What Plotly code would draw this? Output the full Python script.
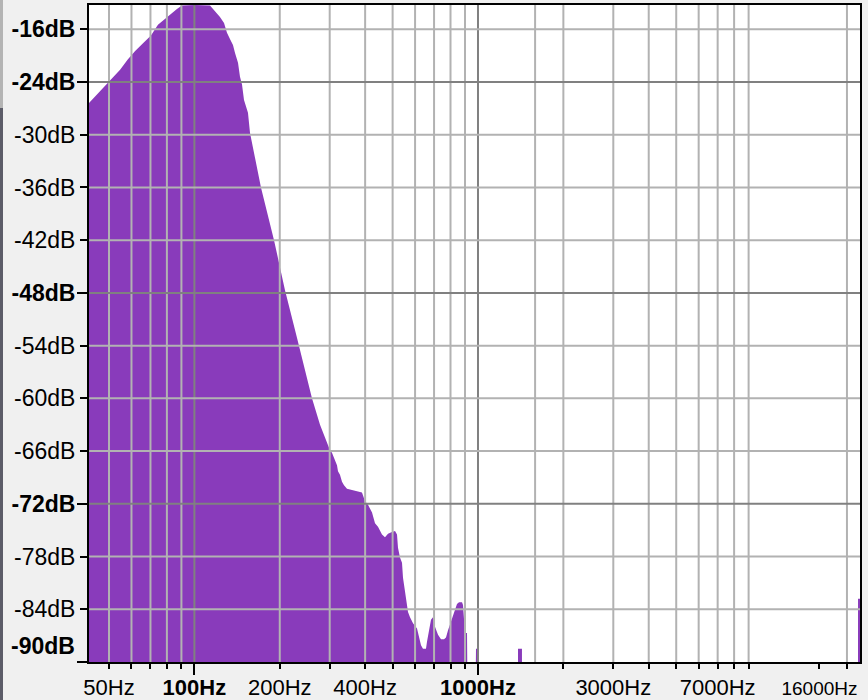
import plotly.graph_objects as go

# ---- data (frequency in Hz, level in dB) ----
freq_hz = [42.5, 50.0, 54.7, 58.3, 61.7, 65.9, 70.3, 74.4, 78.8, 83.4, 86.8, 90.4,
           100.5, 113.5, 116.3, 120.2, 123.1, 127.2, 130.3, 133.5, 136.8, 139.1, 142.5,
           144.8, 147.2, 149.6, 154.5, 157.1, 171.7, 190.9, 208.7, 230.0, 245.4, 259.8,
           277.3, 300.7, 305.6, 313.1, 318.3, 320.9, 326.1, 331.5, 336.9, 345.2, 389.9,
           399.6, 409.4, 423.0, 433.4, 444.0, 458.7, 470.0, 481.6, 497.4, 509.8, 518.1,
           522.3, 530.9, 539.6, 544.0, 557.4, 566.5, 575.8, 590.0, 609.5, 619.5, 629.6,
           639.8, 655.6, 661.0, 671.8, 682.8, 694.0, 705.3, 722.8, 740.6, 758.9, 771.3,
           784.0, 809.8, 823.0, 843.3, 857.2, 878.3, 885.4, 899.9, 914.8, 922.0, 976.0,
           984.0, 1000.0, 1008.0, 1384.0, 1384.0, 1429.0, 1430.0, 21870.0, 21880.0, 22230.0]
level_db = [-26.4, -23.9, -22.6, -21.4, -20.5, -19.6, -18.7, -17.5, -16.8, -16.2, -15.7, -15.3,
            -15.25, -15.3, -15.7, -16.2, -16.6, -17.3, -18.4, -19.1, -19.8, -20.7, -21.8,
            -23.4, -24.3, -26.05, -27.5, -29.8, -36.0, -42.0, -47.7, -53.1, -56.8, -60.0,
            -63.0, -65.9, -66.2, -67.0, -67.6, -68.3, -68.7, -69.5, -69.9, -70.3, -70.7,
            -71.7, -72.1, -73.0, -74.2, -74.6, -75.5, -75.8, -75.4, -75.2, -75.1, -75.5,
            -77.0, -78.1, -78.7, -80.4, -82.6, -84.3, -84.9, -85.6, -86.2, -87.2, -88.1,
            -88.5, -88.5, -87.7, -86.6, -85.2, -84.9, -86.0, -86.9, -87.4, -87.4, -87.2,
            -86.4, -85.1, -84.3, -83.4, -83.2, -83.2, -83.5, -86.7, -86.7, -100.0, -100.0,
            -88.5, -88.5, -100.0, -100.0, -88.5, -88.5, -100.0, -100.0, -82.8, -82.8]

FLOOR_DB = -100.0

x_tick_vals = [50, 60, 70, 80, 90, 100, 200, 300, 400, 500, 600, 700, 800, 900, 1000,
               2000, 3000, 4000, 5000, 6000, 7000, 8000, 9000, 16000, 20000]
x_tick_text = ["50Hz", "", "", "", "", "<b>100Hz</b>", "200Hz", "", "400Hz", "", "", "", "",
               "", "<b>1000Hz</b>", "", "3000Hz", "", "", "", "7000Hz", "", "",
               "<span style='font-size:19px'>16000Hz</span>", ""]
x_major = [100, 1000]
x_grid_light = [50, 60, 70, 80, 90, 200, 300, 400, 500, 600, 700, 800, 900, 1590,
                2000, 3000, 4000, 5000, 6000, 7000, 8000, 9000, 20000]
x_grid_dark = [100, 1000]

y_tick_vals = [-18, -24, -30, -36, -42, -48, -54, -60, -66, -72, -78, -84, -90]
y_tick_text = ["<b>-16dB</b>", "<b>-24dB</b>", "-30dB", "-36dB", "-42dB", "<b>-48dB</b>",
               "-54dB", "-60dB", "-66dB", "<b>-72dB</b>", "-78dB", "-84dB", ""]
y_major = [-24, -48, -72, -90]
y_grid_light = [-18, -30, -36, -42, -54, -60, -66, -78, -84]
y_grid_dark = [-24, -48, -72]
bottom_label = "<b>-90dB</b>"
bottom_label_db = -88.2

X_RANGE_LOG = [1.6284, 4.347]
Y_RANGE = [-90, -15.24]

FONT = dict(family="Liberation Sans, Arial, sans-serif", size=23, color="black")
XFONT = dict(family="Liberation Sans, Arial, sans-serif", size=22, color="black")
PURPLE = "#893bbb"
LIGHT = "#b2b2b2"
DARK = "#808080"

fig = go.Figure()
fig.add_trace(go.Scatter(x=[freq_hz[0], freq_hz[-1]], y=[FLOOR_DB, FLOOR_DB],
                         mode="lines", line=dict(width=0), hoverinfo="skip",
                         showlegend=False))
fig.add_trace(go.Scatter(x=freq_hz, y=level_db, mode="lines",
                         line=dict(width=0, color=PURPLE), fill="tonexty",
                         fillcolor=PURPLE, showlegend=False))

shapes = []
for f in x_grid_light:
    shapes.append(dict(type="line", xref="x", yref="paper", x0=f, x1=f, y0=0, y1=1,
                       line=dict(color=LIGHT, width=2), layer="above"))
for f in x_grid_dark:
    shapes.append(dict(type="line", xref="x", yref="paper", x0=f, x1=f, y0=0, y1=1,
                       line=dict(color=DARK, width=2), layer="above"))
for v in y_grid_light:
    shapes.append(dict(type="line", xref="paper", yref="y", x0=0, x1=1, y0=v, y1=v,
                       line=dict(color=LIGHT, width=2), layer="above"))
for v in y_grid_dark:
    shapes.append(dict(type="line", xref="paper", yref="y", x0=0, x1=1, y0=v, y1=v,
                       line=dict(color=DARK, width=2), layer="above"))

ML, MR, MT, MB = 89, 8, 5, 38
W, H = 868, 700
pw, ph = W - ML - MR, H - MT - MB
# window-edge strip on the far left
shapes.append(dict(type="rect", xref="paper", yref="paper",
                   x0=-ML / pw, x1=-(ML - 3) / pw, y0=-MB / ph, y1=(ph + MT - 108) / ph,
                   fillcolor="#5c5c68", line=dict(width=0), layer="above"))
shapes.append(dict(type="rect", xref="paper", yref="paper",
                   x0=-ML / pw, x1=-(ML - 3) / pw, y0=(ph + MT - 108) / ph, y1=(ph + MT) / ph,
                   fillcolor="#b4b4b4", line=dict(width=0), layer="above"))

fig.update_layout(
    width=W, height=H,
    margin=dict(l=ML, r=MR, t=MT, b=MB, autoexpand=False),
    paper_bgcolor="#f0f0f0", plot_bgcolor="white",
    font=FONT, showlegend=False, shapes=shapes,
    annotations=[dict(text=bottom_label, xref="paper", yref="y", x=0, y=bottom_label_db,
                      xanchor="right", yanchor="middle", xshift=-12, showarrow=False,
                      font=FONT)],
)
fig.update_xaxes(type="log", range=X_RANGE_LOG, tickmode="array", tickvals=x_tick_vals,
                 ticktext=x_tick_text, ticks="outside", ticklen=5, tickwidth=2,
                 tickcolor="black", showgrid=False, zeroline=False, showline=True,
                 linecolor="black", linewidth=2, mirror=True, tickfont=XFONT,
                 automargin=False,
                 minor=dict(tickmode="array", tickvals=x_major, ticks="outside",
                            ticklen=11, tickwidth=2, tickcolor="black", showgrid=False))
fig.update_yaxes(range=Y_RANGE, tickmode="array", tickvals=y_tick_vals,
                 ticktext=y_tick_text, ticks="outside", ticklen=7, tickwidth=2,
                 tickcolor="black", showgrid=False, zeroline=False, showline=True,
                 linecolor="black", linewidth=2, mirror=True, tickfont=FONT,
                 automargin=False,
                 minor=dict(tickmode="array", tickvals=y_major, ticks="outside",
                            ticklen=10, tickwidth=2, tickcolor="black", showgrid=False))

fig.write_html("out.html", config={"displayModeBar": False},
               post_script="document.body.style.margin='0';document.body.style.overflow='hidden';")
